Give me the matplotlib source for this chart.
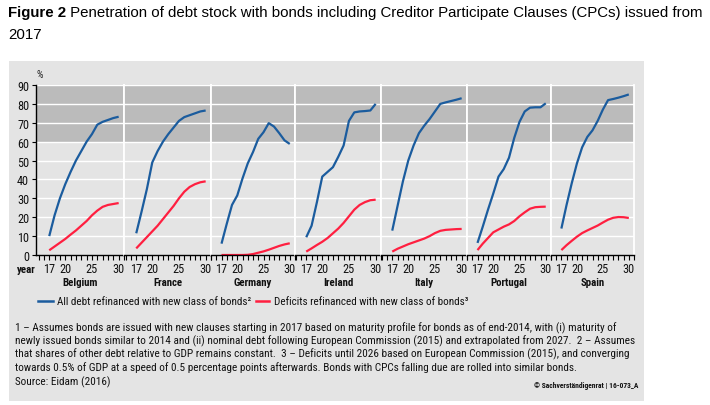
import matplotlib
matplotlib.use("Agg")
import matplotlib.pyplot as plt
from matplotlib import font_manager
from matplotlib.lines import Line2D
from matplotlib.patches import Rectangle

def pick(names):
    for n in names:
        try:
            font_manager.findfont(n, fallback_to_default=False)
            return n
        except Exception:
            pass
    return "DejaVu Sans"

NARROW = pick(["Liberation Sans Narrow", "Roboto Condensed", "Liberation Sans"])
SANS = pick(["Liberation Sans", "Arial", "DejaVu Sans"])

# ---------------- data ----------------
years = [17, 18, 19, 20, 21, 22, 23, 24, 25, 26, 27, 28, 29, 30]
countries = ["Belgium", "France", "Germany", "Ireland", "Italy", "Portugal", "Spain"]

all_debt = {
    "Belgium":  [10, 21, 30, 37.5, 44, 50, 55, 60, 64, 69, 70.5, 71.5, 72.5, 73.2],
    "France":   [11.5, 23, 35, 49, 55, 60, 64, 67.5, 71, 73, 74, 75, 76, 76.5],
    "Germany":  [6, 16.5, 26.5, 31.5, 40.5, 48.5, 54.5, 61.5, 65, 69.8, 68, 64.5, 60.7, 58.8],
    "Ireland":  [9.4, 15.5, 28, 41.5, 44, 46.5, 52, 58, 71, 75.5, 76, 76.2, 76.5, 80],
    "Italy":    [12.9, 26, 39, 50, 58, 64.5, 68.5, 72, 76, 80, 80.8, 81.5, 82.2, 83],
    "Portugal": [6.4, 15, 24, 32.5, 41.5, 45.5, 51.5, 62, 70.5, 76, 78, 78.2, 78.2, 80.3],
    "Spain":    [14, 26.5, 38, 48.5, 57, 62.5, 66, 71, 77, 82, 82.6, 83.3, 84.1, 85],
}
deficits = {
    "Belgium":  [2.5, 4.5, 6.5, 8.5, 10.8, 13, 15.5, 18, 21, 23.5, 25.5, 26.5, 27, 27.5],
    "France":   [3.5, 6.5, 9.5, 12.5, 15.5, 19, 22.5, 26, 30, 33.5, 36, 37.5, 38.5, 39],
    "Germany":  [0, 0, 0, 0, 0, 0.1, 0.5, 1.2, 1.9, 2.8, 3.8, 4.8, 5.6, 6.2],
    "Ireland":  [1.8, 3.5, 5.3, 7, 9, 11.5, 14, 17, 20.5, 24, 26.5, 28, 29, 29.3],
    "Italy":    [1.8, 3.3, 4.5, 5.7, 6.7, 7.7, 8.7, 10, 11.6, 12.8, 13.3, 13.5, 13.7, 13.8],
    "Portugal": [2.6, 6, 9, 12, 13.5, 15, 16.2, 18, 20.5, 22.6, 24.5, 25.3, 25.5, 25.6],
    "Spain":    [2.6, 5.2, 7.5, 9.7, 11.6, 13, 14.3, 15.6, 17.2, 18.7, 19.7, 20.1, 20, 19.6],
}
y_ticks = [0, 10, 20, 30, 40, 50, 60, 70, 80, 90]
x_major = [17, 20, 25, 30]

title_bold = "Figure 2"
title_rest = " Penetration of debt stock with bonds including Creditor Participate Clauses (CPCs) issued from"
title_line2 = "2017"
legend_labels = ["All debt refinanced with new class of bonds\u00b2",
                 "Deficits refinanced with new class of bonds\u00b3"]
footnote = ["1 \u2013 Assumes bonds are issued with new clauses starting in 2017 based on maturity profile for bonds as of end-2014, with (i) maturity of",
            "newly issued bonds similar to 2014 and (ii) nominal debt following European Commission (2015) and extrapolated from 2027.  2 \u2013 Assumes",
            "that shares of other debt relative to GDP remains constant.  3 \u2013 Deficits until 2026 based on European Commission (2015), and converging",
            "towards 0.5% of GDP at a speed of 0.5 percentage points afterwards. Bonds with CPCs falling due are rolled into similar bonds."]
source = "Source: Eidam (2016)"
copyright_txt = "\u00a9 Sachverst\u00e4ndigenrat | 16-073_A"

# ---------------- style ----------------
BLUE = "#1b5c9e"
RED = "#ff1f40"
BG = "#e4e4e4"
BAND = "#bbbbbb"
W, H = 710, 406

fig = plt.figure(figsize=(W / 100, H / 100), dpi=100)
fig.patch.set_facecolor("white")

def fx(px):
    return px / W

def fy(py):
    return 1 - py / H

# grey box
fig.add_artist(Rectangle((fx(9), fy(402)), fx(644) - fx(9), fy(62) - fy(402),
                         transform=fig.transFigure, facecolor=BG, edgecolor="none", zorder=0))

# panels
bounds = [36, 124, 211, 295, 381, 467, 551, 634]
pxyr = 5.34
top, bot = 86, 256
for i, c in enumerate(countries):
    l, r = bounds[i], bounds[i + 1]
    ax = fig.add_axes([fx(l), fy(bot), fx(r) - fx(l), fy(top) - fy(bot)])
    ax.set_facecolor(BG)
    ax.set_xlim(31 - (r - l) / pxyr, 31)
    ax.set_ylim(0, 90)
    ax.axhspan(60, 90, color=BAND, lw=0, zorder=0)
    for yv in y_ticks[1:]:
        ax.axhline(yv, color="white", lw=1.0, zorder=1)
    ax.plot(years, all_debt[c], color=BLUE, lw=1.6, zorder=3, solid_capstyle="butt")
    ax.plot(years, deficits[c], color=RED, lw=1.6, zorder=3, solid_capstyle="butt")
    ax.spines["top"].set_visible(False)
    ax.spines["right"].set_color("white")
    ax.spines["right"].set_linewidth(1.3)
    ax.spines["bottom"].set_color("black")
    ax.spines["bottom"].set_linewidth(1.0)
    ax.spines["bottom"].set_zorder(4)
    if i == 0:
        ax.spines["left"].set_color("black")
        ax.spines["left"].set_linewidth(1.0)
        ax.set_yticks(y_ticks)
        ax.tick_params(axis="y", length=3, width=0.8, pad=2, labelsize=8.8)
        for t in ax.get_yticklabels():
            t.set_fontfamily(NARROW)
            t.set_color("#111111")
    else:
        ax.spines["left"].set_color("white")
        ax.spines["left"].set_linewidth(1.3)
        ax.set_yticks([])
    ax.set_xticks(x_major)
    ax.set_xticks(list(range(15, 32)), minor=True)
    ax.tick_params(axis="x", which="both", length=3.5, width=0.8, direction="out", pad=1.5, labelsize=8.8)
    for t in ax.get_xticklabels():
        t.set_fontfamily(NARROW)
        t.set_color("#111111")
    fig.text(fx((l + r) / 2), fy(283), c, ha="center", va="center", fontsize=7.8,
             fontfamily=NARROW, fontweight="bold", color="#111111")

fig.text(fx(40), fy(75), "%", ha="center", va="center", fontsize=7.5, fontfamily=NARROW, color="#222222")
fig.text(fx(26), fy(270), "year", ha="center", va="center", fontsize=7.8, fontfamily=NARROW,
         fontweight="bold", color="#111111")

# title
TFS = 10.8
t1 = fig.text(fx(8), fy(13), title_bold, ha="left", va="center", fontsize=TFS,
              fontfamily=SANS, fontweight="bold")
fig.canvas.draw()
bb = t1.get_window_extent(fig.canvas.get_renderer())
fig.text(bb.x1 / fig.bbox.width, fy(13), title_rest, ha="left", va="center",
         fontsize=TFS, fontfamily=SANS)
fig.text(fx(8), fy(35), title_line2, ha="left", va="center", fontsize=TFS, fontfamily=SANS)

# legend
for (x0, x1, xt, col, lab) in [(38, 53, 57, BLUE, legend_labels[0]), (256, 269, 274, RED, legend_labels[1])]:
    fig.add_artist(Line2D([fx(x0), fx(x1)], [fy(302), fy(302)], transform=fig.transFigure,
                          color=col, lw=1.8))
    fig.text(fx(xt), fy(302), lab, ha="left", va="center", fontsize=8.0, fontfamily=NARROW,
             color="#111111")

# footnotes
FFS = 8.1
for k, line in enumerate(footnote):
    fig.text(fx(15), fy(328 + 13.2 * k), line, ha="left", va="center", fontsize=FFS,
             fontfamily=NARROW, color="#111111")
fig.text(fx(15), fy(382), source, ha="left", va="center", fontsize=FFS, fontfamily=NARROW, color="#111111")
fig.text(fx(638), fy(386), copyright_txt, ha="right", va="center", fontsize=5.4,
         fontfamily=NARROW, fontweight="bold", color="#111111")

fig.savefig("out.png", dpi=100, facecolor="white")
